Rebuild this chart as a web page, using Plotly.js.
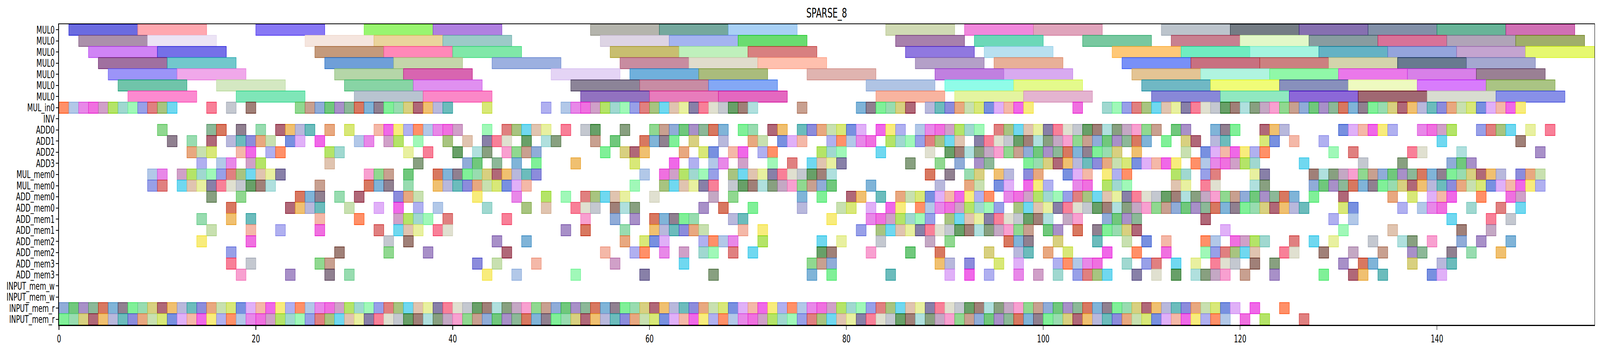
<!DOCTYPE html>
<html>
<head>
<meta charset="utf-8">
<script src="https://cdn.plot.ly/plotly-3.0.1.min.js"></script>
<style>
  html, body { margin: 0; padding: 0; background: white; overflow: hidden; }
  #chart { width: 6619px; height: 899px; transform-origin: 0 0; }
</style>
</head>
<body>
<div id="chart"></div>
<script>
// row labels, top to bottom
var rowLabels = ['MUL0', 'MUL0', 'MUL0', 'MUL0', 'MUL0', 'MUL0', 'MUL0',
    'MUL_in0', 'INV', 'ADD0', 'ADD1', 'ADD2', 'ADD3',
    'MUL_mem0', 'MUL_mem0', 'ADD_mem0', 'ADD_mem0', 'ADD_mem1', 'ADD_mem1',
    'ADD_mem2', 'ADD_mem2', 'ADD_mem3', 'ADD_mem3',
    'INPUT_mem_w', 'INPUT_mem_w', 'INPUT_mem_r', 'INPUT_mem_r'];

var xTicks = [0, 20, 40, 60, 80, 100, 120, 140];

// MUL0 jobs last 7 time steps, every other job lasts 1
var mulDuration = 7;
var unitDuration = 1;

// start times of the MUL0 jobs, one array per MUL0 row
var mul0_a = [1, 8, 20, 31, 38, 54, 61, 68, 84, 92, 99, 112, 119, 126, 133, 140, 147];
var mul0_b = [2, 9, 25, 32, 39, 55, 62, 69, 85, 93, 104, 113, 120, 127, 134, 141, 148];
var mul0_c = [3, 10, 26, 33, 40, 56, 63, 70, 86, 94, 107, 114, 121, 128, 135, 142, 149];
var mul0_d = [4, 11, 27, 34, 44, 57, 64, 71, 87, 95, 108, 115, 122, 129, 136, 143];
var mul0_e = [5, 12, 28, 35, 50, 58, 65, 76, 89, 96, 109, 116, 123, 130, 137, 144];
var mul0_f = [6, 16, 29, 36, 52, 59, 66, 82, 90, 97, 110, 117, 124, 131, 138, 145];
var mul0_g = [7, 18, 30, 37, 53, 60, 67, 83, 91, 98, 111, 118, 125, 132, 139, 146];

// start times of the one-step jobs
var mulIn0 = [0, 1, 2, 3, 4, 5, 6, 7, 8, 9, 10, 11, 15, 17, 19, 24, 25, 26, 27, 28, 29, 30, 31, 32, 33, 34, 35, 36, 37, 38, 39,
    43, 49, 51, 52, 53, 54, 55, 56, 57, 58, 59, 60, 61, 62, 63, 64, 65, 66, 67, 68, 69, 70, 75,
    81, 82, 83, 84, 85, 86, 88, 89, 90, 91, 92, 93, 94, 95, 96, 97, 98, 103,
    106, 107, 108, 109, 110, 111, 112, 113, 114, 115, 116, 117, 118, 119, 120, 121, 122, 123, 124, 125, 126, 127,
    128, 129, 130, 131, 132, 133, 134, 135, 136, 137, 138, 139, 140, 141, 142, 143, 144, 145, 146, 147, 148];
var inv = [];
var add0 = [10, 15, 16, 18, 20, 22, 23, 24, 25, 27, 29, 32, 33, 34, 35, 36, 37, 38, 39, 40, 43, 45, 46, 47, 48, 49, 51, 53, 54,
    57, 60, 61, 62, 63, 64, 65, 66, 67, 69, 70, 72, 73, 75, 76, 77, 78, 79, 80, 81, 83, 84, 85, 87, 88, 89, 90, 91, 92, 93,
    95, 96, 97, 98, 99, 100, 101, 102, 103, 104, 105, 106, 107, 108, 109, 110, 111, 113, 114, 117, 118, 119, 122, 123, 124,
    130, 131, 132, 133, 134, 135, 138, 139, 140, 141, 144, 145, 146, 147, 149, 151];
var add1 = [11, 13, 15, 17, 18, 19, 20, 21, 23, 24, 26, 30, 31, 33, 34, 36, 39, 41, 43, 44, 45, 47, 49, 50, 54, 56, 59, 60, 61,
    62, 64, 67, 70, 71, 73, 74, 75, 78, 79, 80, 81, 82, 84, 85, 86, 87, 88, 89, 90, 91, 93, 94, 95, 96, 97, 98, 99, 100, 101,
    102, 103, 104, 105, 106, 107, 108, 109, 110, 112, 114, 115, 117, 118, 122, 123, 125, 128, 140, 148];
var add2 = [13, 14, 15, 18, 19, 21, 22, 27, 28, 35, 37, 40, 42, 43, 45, 46, 47, 48, 55, 57, 58, 59, 63, 65, 66, 68, 69, 71, 72,
    77, 78, 79, 83, 88, 90, 91, 92, 93, 94, 95, 96, 97, 98, 99, 100, 101, 102, 103, 104, 105, 106, 107, 109, 114, 116, 117,
    118, 119, 120, 121, 122, 129, 131, 137, 138, 142, 150];
var add3 = [14, 16, 17, 19, 20, 27, 36, 41, 42, 44, 46, 48, 52, 58, 62, 64, 66, 67, 69, 72, 74, 76, 77, 78, 79, 86, 89, 91, 93,
    94, 98, 99, 100, 101, 102, 103, 104, 105, 106, 107, 108, 109, 110, 111, 112, 113, 115, 116, 117, 118, 119, 120, 121,
    126, 132, 136, 141, 142, 143];
var mulMem0_a = [9, 10, 12, 13, 14, 15, 16, 17, 18, 19, 20, 21, 22, 31, 32, 33, 35, 38, 39, 40, 41, 42, 43, 44, 45, 46, 47, 48,
    59, 61, 62, 63, 64, 65, 66, 68, 69, 70, 71, 72, 73, 74, 75, 76, 77, 78, 88, 90, 92, 93, 95, 96, 98, 99, 102, 103, 104,
    106, 107, 108, 113, 114, 116, 117, 121, 122, 127, 128, 129, 130, 131, 132, 133, 134, 135, 136, 137, 138, 139, 140, 141,
    142, 143, 144, 145, 146, 148, 149, 150];
var mulMem0_b = [9, 10, 12, 13, 14, 15, 16, 17, 18, 19, 20, 21, 26, 31, 32, 33, 35, 38, 39, 40, 41, 42, 43, 44, 45, 46, 47, 58,
    61, 62, 63, 64, 65, 66, 68, 69, 70, 71, 72, 73, 74, 75, 76, 77, 78, 82, 89, 92, 93, 95, 96, 98, 99, 100, 103, 104, 106,
    107, 108, 113, 114, 116, 117, 121, 122, 127, 128, 129, 130, 131, 132, 133, 134, 135, 136, 137, 138, 139, 140, 141, 142,
    143, 144, 145, 146, 147, 148, 149, 150];
var addMem0_a = [15, 18, 24, 25, 26, 28, 30, 34, 35, 36, 42, 46, 49, 51, 53, 54, 55, 56, 57, 60, 66, 68, 75, 77, 80, 81, 83, 85,
    86, 87, 88, 89, 90, 91, 92, 93, 94, 96, 97, 98, 99, 100, 101, 102, 103, 104, 105, 106, 107, 108, 109, 110, 111, 112,
    113, 114, 115, 116, 117, 118, 119, 120, 121, 122, 123, 124, 125, 127, 130, 135, 137, 139, 140, 141, 144, 147, 148];
var addMem0_b = [17, 23, 24, 25, 26, 29, 32, 34, 36, 38, 43, 47, 49, 52, 53, 54, 56, 57, 58, 65, 67, 70, 75, 79, 80, 82, 84, 85,
    87, 88, 89, 90, 91, 92, 93, 94, 95, 97, 98, 99, 100, 101, 102, 103, 104, 105, 106, 107, 108, 109, 110, 111, 112, 113,
    114, 115, 116, 117, 118, 119, 120, 121, 122, 123, 124, 125, 126, 130, 131, 136, 138, 139, 140, 143, 146, 148];
var addMem1_a = [14, 17, 19, 26, 30, 34, 35, 36, 37, 39, 45, 53, 56, 58, 60, 61, 62, 63, 64, 68, 69, 78, 82, 83, 84, 85, 86,
    87, 88, 90, 91, 92, 93, 94, 95, 96, 97, 98, 99, 100, 102, 103, 106, 107, 108, 109, 116, 129, 131, 141, 145, 147];
var addMem1_b = [15, 19, 22, 26, 32, 34, 35, 36, 38, 39, 51, 53, 57, 60, 61, 62, 63, 64, 65, 69, 71, 81, 83, 84, 85, 86, 87,
    88, 89, 90, 91, 92, 93, 94, 95, 96, 97, 98, 100, 101, 103, 105, 106, 107, 108, 109, 118, 130, 135, 142, 145];
var addMem2_a = [14, 19, 33, 35, 44, 47, 57, 59, 60, 61, 65, 66, 67, 68, 71, 77, 79, 83, 88, 90, 96, 97, 98, 101, 105, 108,
    110, 112, 116, 117, 119, 120, 121, 122, 125, 127, 129, 133, 136, 137, 139, 142, 144, 147];
var addMem2_b = [17, 28, 33, 37, 45, 55, 58, 59, 61, 63, 65, 66, 68, 70, 77, 78, 82, 86, 89, 94, 97, 98, 100, 102, 106, 109,
    112, 116, 117, 118, 119, 120, 121, 124, 125, 128, 131, 134, 137, 138, 141, 143, 146];
var addMem3_a = [17, 19, 26, 27, 42, 44, 48, 56, 63, 76, 77, 78, 89, 90, 92, 95, 97, 101, 102, 103, 104, 105, 108, 110, 111,
    113, 115, 117, 118, 119, 121, 123, 130, 132, 133, 137, 140, 141];
var addMem3_b = [18, 23, 27, 29, 43, 46, 52, 59, 66, 76, 78, 84, 90, 92, 94, 97, 99, 101, 103, 104, 105, 106, 109, 111, 113,
    115, 116, 117, 118, 120, 123, 128, 131, 132, 134, 139, 140];
var inputMemW_a = [];
var inputMemW_b = [];
var inputMemR_a = [0, 1, 2, 3, 4, 5, 6, 7, 8, 9, 10, 11, 12, 13, 14, 15, 16, 17, 18, 19, 20, 21, 22, 23, 24, 25, 26, 27, 28, 29,
    30, 31, 32, 33, 34, 35, 36, 37, 38, 39, 40, 41, 42, 43, 44, 45, 46, 47, 48, 49, 50, 51, 52, 53, 54, 55, 56, 57, 58, 59,
    60, 61, 62, 63, 64, 65, 66, 67, 68, 69, 70, 71, 72, 73, 74, 75, 76, 77, 78, 79, 80, 81, 82, 83, 84, 85, 86, 87, 88, 89,
    90, 91, 92, 93, 94, 95, 96, 97, 98, 99, 100, 101, 102, 103, 104, 105, 106, 107, 108, 109, 110, 111, 112, 113, 114, 115,
    116, 117, 118, 119, 121, 124];
var inputMemR_b = [0, 1, 2, 3, 4, 5, 6, 7, 8, 9, 10, 11, 12, 13, 14, 15, 16, 17, 18, 19, 20, 21, 22, 23, 24, 25, 26, 27, 28, 29,
    30, 31, 32, 33, 34, 35, 36, 37, 38, 39, 40, 41, 42, 43, 44, 45, 46, 47, 48, 49, 50, 51, 52, 53, 54, 55, 56, 57, 58, 59,
    60, 61, 62, 63, 64, 65, 66, 67, 68, 69, 70, 71, 72, 73, 74, 75, 76, 77, 78, 79, 80, 81, 82, 83, 84, 85, 86, 87, 88, 89,
    90, 91, 92, 93, 94, 95, 96, 97, 98, 99, 100, 101, 102, 103, 104, 105, 106, 107, 108, 109, 110, 111, 112, 113, 114, 115,
    116, 117, 118, 120, 122, 126];

// colours of the long MUL0 bars (as they look on white)
var mul0Colors = [
    ['#6b6be0', '#ffa8b0', '#8878f5', '#99f570', '#b080e0', '#b4b4ac', '#75a89e', '#a8d0f5', '#d0dab4', '#f088dc', '#e0a4bc', '#bcc4cc', '#747c84', '#8670b0', '#8290a8', '#68b498', '#d070b4'],
    ['#ab90ab', '#ece4f5', '#f5e5de', '#ead49c', '#9ccac8', '#ddd4e4', '#a4b4f0', '#6adc70', '#a880ac', '#6cd8b8', '#78c8a0', '#c88090', '#e2f8c8', '#889ca0', '#d87298', '#b0a4b8', '#a0ae6a'],
    ['#d084f5', '#7570e8', '#c49a7c', '#ff88b8', '#80e8a8', '#c8be70', '#bff0bc', '#d88080', '#9078e0', '#b8e0f0', '#fec878', '#70ecc0', '#a4f4e0', '#64b2c4', '#94a4dc', '#c4a4d0', '#e6f870'],
    ['#a070a0', '#72c8cc', '#6f9fd8', '#c4d6aa', '#9cb0e0', '#c88ca0', '#e0dccc', '#ffc0ae', '#b4a0c8', '#e8b098', '#7890f8', '#c87080', '#cc8080', '#d4d4ac', '#687a90', '#a4a8d0'],
    ['#9c94f8', '#f0a8ea', '#b5d6a8', '#d865b0', '#e4d4f5', '#70b0dc', '#aabc7c', '#e0b4b0', '#c080e0', '#d8aaf0', '#e4c494', '#b0f4e0', '#90f8a8', '#ea78ea', '#d880e8', '#9a8094'],
    ['#70c4aa', '#d4e8c2', '#88d4a5', '#e090f0', '#8c8498', '#c88ca4', '#84a8f5', '#b0c4e4', '#90fce8', '#e4fa8c', '#70b8c4', '#f0fc78', '#8890bc', '#eefac0', '#d87cfc', '#aac484'],
    ['#fc8ad0', '#7fe6b8', '#b8c4d0', '#fb88c8', '#9272c0', '#e87cbc', '#e468c0', '#f8b4a0', '#e4f4a0', '#e4b4d0', '#8888d8', '#90e8c0', '#8c68d8', '#a06872', '#d8dcd0', '#8890e8']
];

// colours cycled over the one-step jobs
var cellPalette = ['#b2c8e8', '#b0e0de', '#6cbcbc', '#98a0e8', '#70c87c', '#f4b8a8', '#f88098', '#98dcb0', '#f070e0', '#c4a8c4',
    '#e8a880', '#a8c480', '#8cb898', '#f8ec7c', '#c4c8d0', '#b06878', '#b4e468', '#90d890', '#d8e878', '#e0c4b0',
    '#80b4d8', '#ff9068', '#a08078', '#b8b8dc', '#a0f8b8', '#90acd8', '#e0b0f8', '#8880a8', '#80f098', '#e888e8',
    '#88a080', '#8c8cdc', '#e08080', '#a890c8', '#f068e8', '#e0e0d0', '#d8d080', '#d0a0c8', '#f8a0d0', '#c8e0b0',
    '#70d8f0', '#d87860', '#b0b0f0', '#68a068', '#f0c070', '#a0d8d0', '#c8a090', '#7890e0', '#e8f0a0', '#908090'];

var mulRows = [mul0_a, mul0_b, mul0_c, mul0_d, mul0_e, mul0_f, mul0_g];
var unitRows = [mulIn0, inv, add0, add1, add2, add3, mulMem0_a, mulMem0_b, addMem0_a, addMem0_b,
    addMem1_a, addMem1_b, addMem2_a, addMem2_b, addMem3_a, addMem3_b,
    inputMemW_a, inputMemW_b, inputMemR_a, inputMemR_b];

// edge colour: undo the white blend so the border looks like the solid colour
function edgeOf(hex)
{
    var out = '#';
    for (var i = 1; i < 7; i += 2) {
        var v = parseInt(hex.substr(i, 2), 16);
        v = Math.round((v - 0.4 * 255) / 0.6);
        v = Math.max(0, Math.min(255, v));
        out += ('0' + v.toString(16)).slice(-2);
    }
    return out;
}

function rowTrace(rowIndex, starts, duration, colors)
{
    return {
        type: 'bar',
        orientation: 'h',
        y: starts.map(function () { return rowIndex; }),
        x: starts.map(function () { return duration; }),
        base: starts,
        width: 1,
        marker: {
            color: colors,
            line: { color: colors.map(edgeOf), width: 1.6 }
        },
        hoverinfo: 'skip',
        showlegend: false
    };
}

var data = [];
mulRows.forEach(function (starts, r) {
    data.push(rowTrace(r, starts, mulDuration, mul0Colors[r]));
});
unitRows.forEach(function (starts, k) {
    var r = k + mulRows.length;
    var colors = starts.map(function (s) { return cellPalette[(s * 29 + r * 53) % cellPalette.length]; });
    data.push(rowTrace(r, starts, unitDuration, colors));
});

var axisFont = { family: 'DejaVu Sans', size: 27, color: 'black' };

var layout = {
    width: 6619,
    height: 899,
    paper_bgcolor: 'white',
    plot_bgcolor: 'white',
    barmode: 'overlay',
    bargap: 0,
    title: {
        text: 'SPARSE_8',
        font: { family: 'DejaVu Sans', size: 34, color: 'black' },
        x: 0.5,
        xref: 'paper',
        y: 1 - 33 / 899,
        yref: 'container',
        yanchor: 'middle'
    },
    xaxis: {
        range: [0, 156],
        tickvals: xTicks,
        ticktext: xTicks.map(String),
        ticks: 'outside',
        ticklen: 10,
        tickwidth: 2,
        tickcolor: 'black',
        showgrid: false,
        zeroline: false,
        showline: true,
        mirror: true,
        linecolor: 'black',
        linewidth: 2.5,
        tickfont: axisFont
    },
    yaxis: {
        range: [rowLabels.length - 0.5, -0.5],
        tickvals: rowLabels.map(function (l, i) { return i; }),
        ticktext: rowLabels,
        ticks: 'outside',
        ticklen: 10,
        tickwidth: 2,
        tickcolor: 'black',
        showgrid: false,
        zeroline: false,
        showline: true,
        mirror: true,
        linecolor: 'black',
        linewidth: 2.5,
        tickfont: axisFont
    },
    margin: { l: 244, r: 23, t: 62, b: 67, pad: 0 }
};

// the browser window can be narrower than the 6619 px figure: squeeze it sideways to fit
var fit = Math.min(1, window.innerWidth / 6619);
document.getElementById('chart').style.transform = 'scaleX(' + fit + ')';

//Create the chart
Plotly.newPlot('chart', data, layout, { displayModeBar: false, staticPlot: true });
</script>
</body>
</html>
